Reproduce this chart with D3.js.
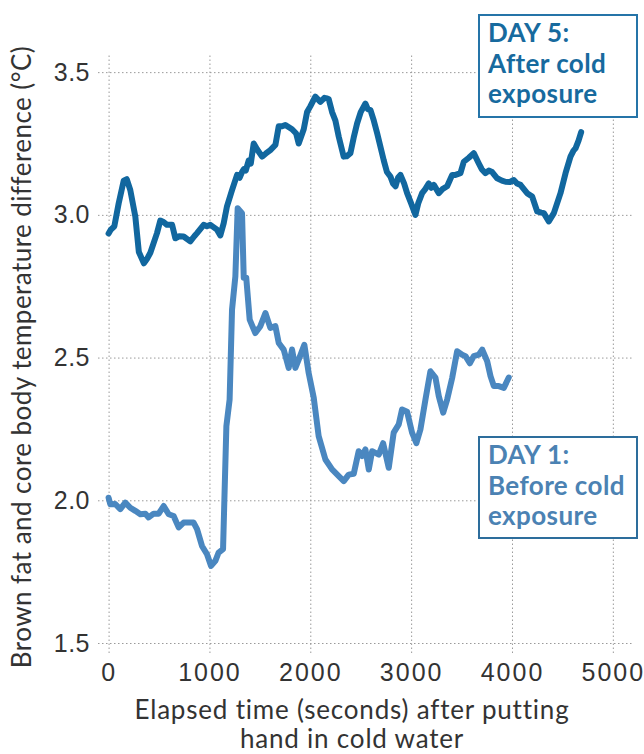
<!DOCTYPE html>
<html><head><meta charset="utf-8">
<script src="https://cdn.jsdelivr.net/npm/d3@7"></script>
<style>
html,body{margin:0;padding:0;background:#fff;}
svg{display:block;font-family:Lato,"Open Sans",sans-serif;}
</style></head>
<body><svg id="c" width="644" height="754"></svg>
<script>
// ---- data ----
const day5Time = [0,20,57,100,150,180,215,265,300,350,380,414,480,513,545,579,630,662,700,744,810,850,877,943,975,1009,1075,1108,1141,1174,1224,1274,1300,1323,1340,1360,1389,1410,1439,1472,1522,1560,1604,1654,1687,1720,1753,1819,1860,1885,1935,1968,2000,2050,2100,2140,2166,2183,2216,2249,2282,2331,2360,2398,2430,2464,2500,2547,2570,2597,2630,2663,2729,2760,2795,2820,2845,2870,2894,2930,2960,3000,3043,3070,3109,3140,3175,3200,3225,3274,3310,3357,3407,3440,3489,3522,3572,3621,3671,3700,3737,3770,3803,3853,3900,3935,3980,4018,4050,4084,4150,4200,4250,4290,4316,4365,4415,4481,4531,4580,4610,4630,4660,4686];
const day5Values = [2.935,2.947,2.96,3.04,3.12,3.125,3.087,2.994,2.87,2.83,2.845,2.867,2.936,2.98,2.975,2.965,2.965,2.918,2.925,2.924,2.907,2.925,2.936,2.965,2.96,2.965,2.948,2.928,2.97,3.03,3.087,3.14,3.13,3.15,3.16,3.155,3.19,3.18,3.25,3.23,3.204,3.215,3.227,3.245,3.31,3.31,3.315,3.30,3.285,3.25,3.30,3.36,3.38,3.414,3.396,3.41,3.408,3.405,3.36,3.33,3.274,3.204,3.205,3.216,3.27,3.32,3.36,3.39,3.37,3.367,3.33,3.286,3.19,3.15,3.134,3.11,3.10,3.13,3.14,3.11,3.076,3.04,3.0,3.04,3.076,3.09,3.11,3.095,3.105,3.076,3.09,3.10,3.14,3.14,3.146,3.186,3.20,3.216,3.18,3.16,3.146,3.155,3.15,3.128,3.12,3.116,3.115,3.122,3.11,3.105,3.076,3.064,3.012,3.008,3.006,2.977,3.006,3.076,3.146,3.204,3.225,3.233,3.26,3.29];

const day1Time = [0,17,66,116,166,215,265,315,365,397,447,497,546,596,645,695,744,794,843,877,926,976,1016,1059,1091,1135,1148,1168,1200,1224,1257,1280,1323,1340,1365,1399,1455,1505,1555,1604,1654,1687,1736,1786,1819,1852,1885,1941,1984,2034,2083,2150,2216,2282,2332,2381,2431,2480,2514,2547,2580,2613,2679,2722,2778,2827,2877,2910,2960,3009,3052,3092,3142,3191,3241,3274,3318,3357,3407,3456,3506,3539,3582,3621,3671,3705,3754,3787,3820,3869,3919,3968];
const day1Values = [2.009,1.986,1.987,1.969,1.992,1.974,1.963,1.951,1.953,1.94,1.953,1.953,1.98,1.951,1.945,1.905,1.922,1.922,1.922,1.899,1.84,1.811,1.77,1.788,1.817,1.829,2.0,2.26,2.353,2.668,2.784,3.023,3.006,2.78,2.78,2.633,2.586,2.61,2.656,2.604,2.61,2.551,2.528,2.464,2.528,2.464,2.493,2.545,2.446,2.36,2.225,2.143,2.108,2.085,2.067,2.09,2.093,2.172,2.155,2.178,2.108,2.172,2.16,2.20,2.114,2.237,2.266,2.318,2.31,2.237,2.20,2.248,2.353,2.452,2.43,2.365,2.307,2.353,2.429,2.522,2.51,2.505,2.48,2.505,2.51,2.528,2.487,2.435,2.40,2.40,2.394,2.43];

const xTicks = [0,1000,2000,3000,4000,5000];
const yTicks = [1.5,2.0,2.5,3.0,3.5];
const xTitleLines = ["Elapsed time (seconds) after putting","hand in cold water"];
const yTitle = "Brown fat and core body temperature difference (°C)";
const day5Label = ["DAY 5:","After cold","exposure"];
const day1Label = ["DAY 1:","Before cold","exposure"];

// ---- layout ----
const svg = d3.select("#c");
const pLeft = 98, pRight = 632, pTop = 55, pBottom = 653;
const x = d3.scaleLinear().domain([-105, 5190]).range([pLeft, pRight]);
const y = d3.scaleLinear().domain([1.465, 3.56]).range([pBottom, pTop]);

const gridColor = "#9a9a9a";

// x axis with vertical grid
const gx = svg.append("g").attr("transform", `translate(0,${pBottom})`)
  .call(d3.axisBottom(x).tickValues(xTicks).tickFormat(d3.format("d"))
        .tickSize(-(pBottom - pTop)).tickPadding(10));
gx.select(".domain").remove();
gx.selectAll(".tick line").attr("stroke", gridColor).attr("stroke-dasharray", "1.5,2.5");
gx.selectAll(".tick text").attr("fill", "#333").attr("font-size", 25)
  .attr("letter-spacing", "2px");

// y axis with horizontal grid
const gy = svg.append("g").attr("transform", `translate(${pLeft},0)`)
  .call(d3.axisLeft(y).tickValues(yTicks).tickFormat(d3.format(".1f"))
        .tickSize(-(pRight - pLeft)).tickPadding(8));
gy.select(".domain").remove();
gy.selectAll(".tick line").attr("stroke", gridColor).attr("stroke-dasharray", "1.5,2.5");
gy.selectAll(".tick text").attr("fill", "#333").attr("font-size", 25)
  .attr("letter-spacing", "0.5px");

// lines
const line = d3.line().x(d => x(d[0])).y(d => y(d[1]));
const day1 = day1Time.map((t, i) => [t, day1Values[i]]);
const day5 = day5Time.map((t, i) => [t, day5Values[i]]);

svg.append("path").datum(day1).attr("d", line)
  .attr("fill", "none").attr("stroke", "#4a87c0").attr("stroke-width", 6)
  .attr("stroke-linejoin", "round").attr("stroke-linecap", "round");
svg.append("path").datum(day5).attr("d", line)
  .attr("fill", "none").attr("stroke", "#11679f").attr("stroke-width", 6)
  .attr("stroke-linejoin", "round").attr("stroke-linecap", "round");

// legend boxes
function legendBox(bx, by, bw, bh, lines, textColor, borderColor) {
  const g = svg.append("g");
  g.append("rect").attr("x", bx).attr("y", by).attr("width", bw).attr("height", bh)
    .attr("fill", "#fff").attr("stroke", borderColor).attr("stroke-width", 2);
  g.selectAll("text").data(lines).join("text")
    .attr("x", bx + 9).attr("y", (d, i) => by + 27 + i * 30.5)
    .attr("fill", textColor).attr("font-size", 26).attr("font-weight", 700)
    .attr("letter-spacing", "0.4px")
    .text(d => d);
}
legendBox(479, 15, 158, 102, day5Label, "#176a9e", "#2574a8");
legendBox(479, 437, 158, 101, day1Label, "#4b82b3", "#2d6d9c");

// axis titles
svg.append("g").selectAll("text").data(xTitleLines).join("text")
  .attr("x", 352).attr("y", (d, i) => 719 + i * 29)
  .attr("text-anchor", "middle").attr("fill", "#333").attr("font-size", 26)
  .attr("letter-spacing", "0.8px")
  .text(d => d);

svg.append("text")
  .attr("transform", "translate(31,357) rotate(-90)")
  .attr("text-anchor", "middle").attr("fill", "#333").attr("font-size", 26)
  .attr("letter-spacing", "0.45px")
  .text(yTitle);
</script></body></html>
